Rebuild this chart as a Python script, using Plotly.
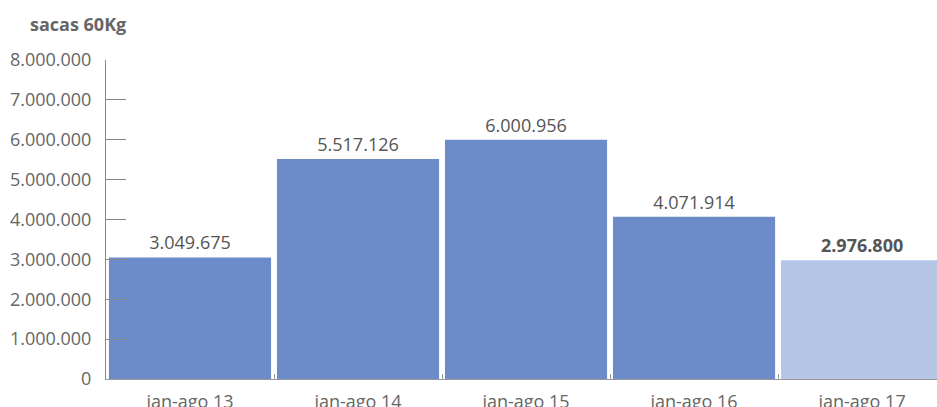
import plotly.graph_objects as go

periodos = ["jan-ago 13", "jan-ago 14", "jan-ago 15", "jan-ago 16", "jan-ago 17"]
sacas = [3049675, 5517126, 6000956, 4071914, 2976800]
rotulos = ["3.049.675", "5.517.126", "6.000.956", "4.071.914", "<b>2.976.800</b>"]

cores = ["#6d8bc8"] * 4 + ["#b5c6e7"]

fig = go.Figure(go.Bar(
    x=periodos,
    y=sacas,
    text=rotulos,
    textposition="outside",
    textfont=dict(size=18, color="#555555"),
    marker=dict(color=cores, line=dict(width=0)),
    cliponaxis=False,
    hoverinfo="skip",
))

fig.update_layout(
    width=937,
    height=407,
    margin=dict(l=106, r=0, t=60, b=28),
    paper_bgcolor="white",
    plot_bgcolor="white",
    font=dict(family="Open Sans", size=18, color="#666666"),
    separators=",.",
    bargap=0.035,
    showlegend=False,
    annotations=[dict(
        text="<b>sacas 60Kg</b>",
        xref="paper", yref="paper",
        x=(78 - 106) / 831, y=(379 - 24) / 319,
        xanchor="center", yanchor="middle",
        showarrow=False,
        font=dict(size=18, color="#666666"),
    )],
)

fig.update_yaxes(
    range=[0, 8000000],
    tickvals=[i * 1000000 for i in range(9)],
    tickformat=",d",
    automargin=False,
    showgrid=False,
    zeroline=False,
    showline=True,
    linecolor="#888888",
    linewidth=1,
    ticks="inside",
    ticklen=20,
    tickcolor="#888888",
    ticklabelstandoff=10,
)

# última barra cortada na borda direita, como no original
fig.update_xaxes(
    range=[-0.5, 4.446],
    automargin=False,
    showgrid=False,
    showline=True,
    linecolor="#999999",
    linewidth=1,
    ticks="inside",
    tickson="boundaries",
    ticklen=5,
    tickcolor="#999999",
    ticklabelstandoff=6,
)

fig.write_html(
    "out.html",
    config={"displayModeBar": False},
    post_script="document.body.style.margin = '0';",
)
